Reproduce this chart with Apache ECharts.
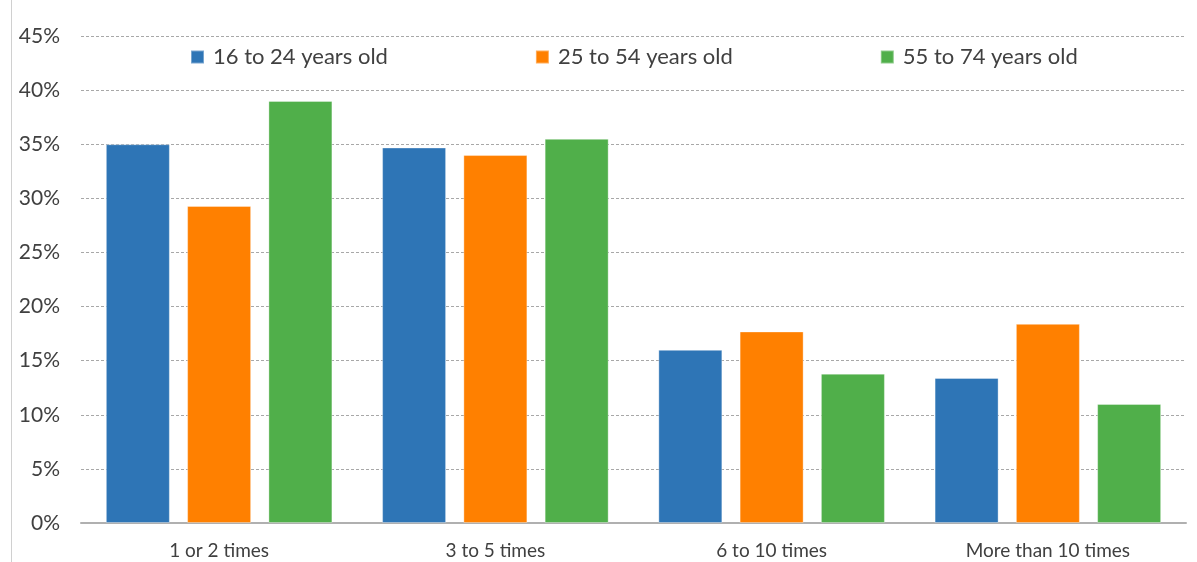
<!DOCTYPE html>
<html>
<head>
<meta charset="utf-8">
<script src="https://cdn.jsdelivr.net/npm/echarts@6/dist/echarts.min.js"></script>
<style>html,body{margin:0;padding:0;background:#fff}#c{width:1197px;height:562px}</style>
</head>
<body>
<div id="c"></div>
<script>
const categories = ['1 or 2 times', '3 to 5 times', '6 to 10 times', 'More than 10 times'];
const seriesNames = ['16 to 24 years old', '25 to 54 years old', '55 to 74 years old'];
const age16to24 = [35.0, 34.7, 16.0, 13.4];
const age25to54 = [29.3, 34.0, 17.7, 18.4];
const age55to74 = [39.0, 35.5, 13.8, 11.0];
const colors = ['#2E75B6', '#FF8000', '#50AF4A'];

const font = 'Lato, "Liberation Sans", sans-serif';
const chart = echarts.init(document.getElementById('c'));
const mk = (name, data, color) => ({
  name, type: 'bar', data, barWidth: 64, barGap: '27%',
  itemStyle: { color, borderColor: 'rgba(255,255,255,0.35)', borderWidth: 1 }
});
chart.setOption({
  animation: false,
  color: colors,
  graphic: [{ type: 'line', shape: { x1: 11.5, y1: 0, x2: 11.5, y2: 562 }, style: { stroke: '#d0d0d0', lineWidth: 1 } }],
  legend: {
    top: 41, left: 185, itemWidth: 13, itemHeight: 13, itemGap: 147,
    icon: 'rect',
    textStyle: { fontFamily: font, fontSize: 22, color: '#404040', padding: [0, 0, 0, 4] },
    data: seriesNames
  },
  grid: { left: 81, right: 11, top: 36, bottom: 39, containLabel: false },
  xAxis: {
    type: 'category', data: categories,
    axisLine: { lineStyle: { color: '#b0b0b0', width: 2 } },
    axisTick: { show: false },
    axisLabel: { fontFamily: font, fontSize: 19, color: '#404040', margin: 18 }
  },
  yAxis: {
    type: 'value', min: 0, max: 45, interval: 5,
    axisLine: { show: false }, axisTick: { show: false },
    axisLabel: { formatter: '{value}%', fontFamily: font, fontSize: 21, color: '#404040', margin: 21 },
    splitLine: { lineStyle: { color: '#a8a8a8', type: [3, 2], width: 1 } }
  },
  series: [mk(seriesNames[0], age16to24, colors[0]), mk(seriesNames[1], age25to54, colors[1]), mk(seriesNames[2], age55to74, colors[2])]
});
</script>
</body>
</html>
